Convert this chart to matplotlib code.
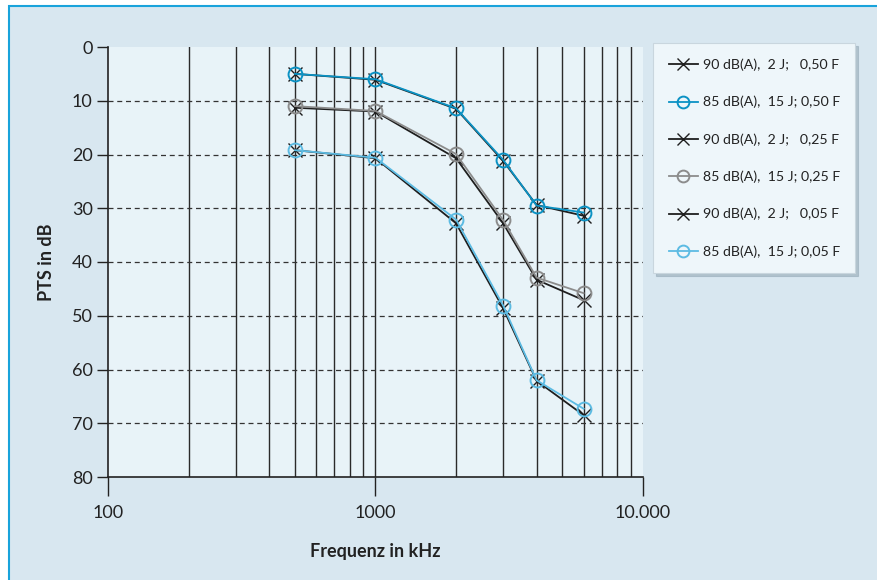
import numpy as np
import matplotlib.pyplot as plt
from matplotlib.patches import Rectangle
from matplotlib import font_manager

# Schriftart: schmal, ähnlich Myriad
names = {f.name for f in font_manager.fontManager.ttflist}
fam = 'Liberation Sans Narrow' if 'Liberation Sans Narrow' in names else 'Lato'
plt.rcParams['font.family'] = [fam, 'DejaVu Sans']

# ------------------------------ Daten ------------------------------
freq = [500, 1000, 2000, 3000, 4000, 6000]

pts_90_050 = [5.0, 6.1, 11.5, 21.2, 29.4, 31.4]
pts_85_050 = [5.0, 6.0, 11.4, 21.0, 29.5, 30.8]
pts_90_025 = [11.3, 12.0, 20.7, 32.8, 43.3, 47.1]
pts_85_025 = [11.0, 11.9, 19.9, 32.2, 42.9, 45.8]
pts_90_005 = [19.2, 20.7, 32.8, 48.6, 62.1, 68.5]
pts_85_005 = [19.2, 20.6, 32.1, 48.1, 62.0, 67.3]

labels = ['90 dB(A),  2 J;   0,50 F', '85 dB(A),  15 J; 0,50 F',
          '90 dB(A),  2 J;   0,25 F', '85 dB(A),  15 J; 0,25 F',
          '90 dB(A),  2 J;   0,05 F', '85 dB(A),  15 J; 0,05 F']

xticks = [100, 1000, 10000]
xticklabels = ['100', '1000', '10.000']
yticks = [0, 10, 20, 30, 40, 50, 60, 70, 80]

# ------------------------------ Grafik ------------------------------
fig = plt.figure(figsize=(8.78, 5.8), dpi=100)
fig.patch.set_facecolor('white')
# Rahmen
fig.patches.append(Rectangle((9 / 878, -0.05), 1.0, 1 - 6 / 580 + 0.05,
                             transform=fig.transFigure, facecolor='#d8e7f0',
                             edgecolor='#19a3db', lw=1.5, zorder=-5))

ax = fig.add_axes([108 / 878, 1 - 477 / 580, (643 - 108) / 878, (477 - 47) / 580])
ax.set_facecolor('#e8f3f8')
ax.set_xscale('log')
ax.set_xlim(100, 10000)
ax.set_ylim(80, 0)

# Gitter
for v in list(range(200, 1000, 100)) + [1000] + list(range(2000, 10000, 1000)):
    ax.axvline(v, color='#2a2a2a', lw=1.0, zorder=1)
for h in yticks[1:-1]:
    ax.axhline(h, color='#333333', lw=0.9, ls=(0, (4, 3)), zorder=1)

blk = '#1e1e1e'
ms_x, ms_o = 10, 10
ax.plot(freq, pts_90_050, color=blk, marker='x', ms=ms_x, mew=1.0, lw=1.3, label=labels[0], zorder=3)
ax.plot(freq, pts_85_050, color='#0b92c4', marker='o', mfc='none', ms=ms_o, mew=1.4, lw=1.3, label=labels[1], zorder=4)
ax.plot(freq, pts_90_025, color=blk, marker='x', ms=ms_x, mew=1.0, lw=1.3, label=labels[2], zorder=3)
ax.plot(freq, pts_85_025, color='#8c8c8c', marker='o', mfc='none', ms=ms_o, mew=1.4, lw=1.3, label=labels[3], zorder=4)
ax.plot(freq, pts_90_005, color=blk, marker='x', ms=ms_x, mew=1.0, lw=1.3, label=labels[4], zorder=3)
ax.plot(freq, pts_85_005, color='#5cbbe3', marker='o', mfc='none', ms=ms_o, mew=1.4, lw=1.3, label=labels[5], zorder=4)

# Achsen
for s in ['top', 'right']:
    ax.spines[s].set_visible(False)
for s in ['left', 'bottom']:
    ax.spines[s].set_color('#222222')
    ax.spines[s].set_linewidth(1.2)
ax.set_xticks(xticks)
ax.set_xticklabels(xticklabels)
ax.xaxis.set_minor_locator(plt.NullLocator())
ax.tick_params(axis='x', length=14, width=1.0, color='#222222', labelsize=13, pad=6, labelcolor='#222222')
ax.set_yticks(yticks)
ax.tick_params(axis='y', length=8, width=1.0, color='#222222', labelsize=13, pad=3, labelcolor='#222222')
ax.set_xlabel('Frequenz in kHz', fontsize=13, fontweight='bold', color='#222222', labelpad=16)
ax.set_ylabel('PTS in dB', fontsize=13, fontweight='bold', color='#222222', labelpad=12)

# Legende
leg = fig.legend(loc='upper left', bbox_to_anchor=(653 / 878, 1 - 43 / 580), frameon=True,
                 fontsize=10.2, handlelength=2.1, handletextpad=0.3, labelspacing=1.75,
                 borderpad=1.1, fancybox=False, borderaxespad=0, markerscale=0.85,
                 shadow={'ox': 2, 'oy': -2, 'color': '#9fb3bf', 'alpha': 0.7})
leg.get_frame().set_facecolor('#eef6fa')
leg.get_frame().set_edgecolor('#c9d6de')
leg.get_frame().set_linewidth(0.8)
for t in leg.get_texts():
    t.set_color('#222222')

fig.savefig('out.png', dpi=100)
